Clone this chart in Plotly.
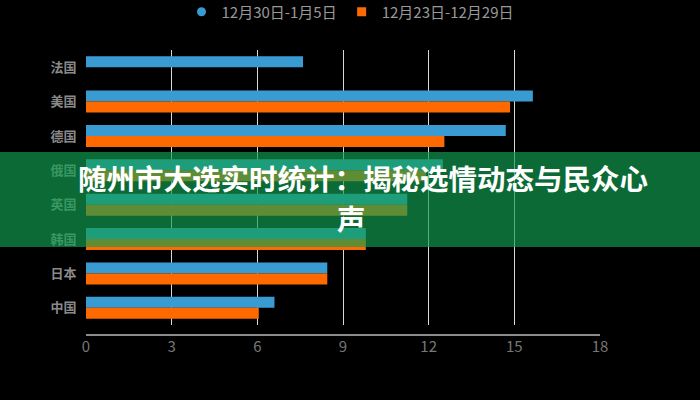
import plotly.graph_objects as go

# categories top to bottom
countries = ["法国", "美国", "德国", "俄国", "英国", "韩国", "日本", "中国"]
week_new = [7.6, 15.65, 14.7, 12.5, 11.25, 9.8, 8.45, 6.6]
week_old = [0, 14.85, 12.55, 11.9, 11.25, 9.8, 8.45, 6.05]
name_new = "12月30日-1月5日"
name_old = "12月23日-12月29日"
x_ticks = [0, 3, 6, 9, 12, 15, 18]
title_lines = ["随州市大选实时统计：揭秘选情动态与民众心", "声"]

BLUE = "#3a9bd2"
ORANGE = "#ff6a00"
FONT = "Noto Sans CJK SC"

# plot area in pixels: x 86..600, y 50..325
W, H = 700, 400
L, R, T, B = 86, 100, 50, 75
pw, ph = W - L - R, H - T - B

def px_x(p):
    return (p - L) / pw

def px_y(p):
    return (H - B - p) / ph

fig = go.Figure()
fig.add_trace(go.Bar(y=countries, x=week_new, orientation="h", name=name_new,
                     marker=dict(color=BLUE, line=dict(width=0)),
                     showlegend=False))
fig.add_trace(go.Bar(y=countries, x=week_old, orientation="h", name=name_old,
                     marker=dict(color=ORANGE, line=dict(width=0)),
                     showlegend=False))
# legend entries (circle for the first series, square for the second)
fig.add_trace(go.Scatter(x=[None], y=[None], mode="markers", name=name_new,
                         marker=dict(symbol="circle", color=BLUE, size=9)))
fig.add_trace(go.Scatter(x=[None], y=[None], mode="markers", name=name_old,
                         marker=dict(symbol="square", color=ORANGE, size=9)))

# title: two centred lines on the banner
title_ann = []
for line, (cx, cy) in zip(title_lines, [(363, 177), (351, 217)]):
    title_ann.append(dict(text=line, xref="paper", yref="paper",
                          x=px_x(cx), y=px_y(cy), xanchor="center",
                          yanchor="middle", showarrow=False,
                          font=dict(family=FONT, size=28.5, color="white",
                                    weight="bold")))

fig.update_layout(
    width=W, height=H,
    margin=dict(l=L, r=R, t=T, b=B, autoexpand=False),
    paper_bgcolor="black", plot_bgcolor="black",
    barmode="group", bargap=0.36, bargroupgap=0,
    font=dict(family=FONT, color="#888888"),
    legend=dict(orientation="h", x=px_x(350), xanchor="center",
                y=px_y(12), yanchor="middle",
                font=dict(size=15, color="#999999"),
                itemwidth=30, tracegroupgap=0),
    xaxis=dict(range=[0, 18], tickvals=x_ticks, showgrid=True,
               gridcolor="#d8d8d8", gridwidth=1, zeroline=False,
               showline=False, ticks="outside", ticklen=8,
               tickcolor="black", tickfont=dict(size=15, color="#777777")),
    yaxis=dict(autorange="reversed", showgrid=False, showline=False,
               zeroline=False, ticks="outside", ticklen=6, tickcolor="black",
               tickfont=dict(size=13, color="#8a8a8a", weight="bold")),
    shapes=[
        # detached x axis line
        dict(type="line", xref="paper", yref="paper", x0=0, x1=1,
             y0=-10 / ph, y1=-10 / ph, line=dict(color="#bbbbbb", width=1.5),
             layer="below"),
        # title banner
        dict(type="rect", xref="paper", yref="paper",
             x0=px_x(0), x1=px_x(W), y0=px_y(247), y1=px_y(152),
             fillcolor="rgba(16,158,79,0.67)", line=dict(width=0),
             layer="above"),
    ],
    annotations=title_ann,
)

fig.write_html("out.html", config={"displayModeBar": False},
               post_script="document.body.style.margin='0';")
